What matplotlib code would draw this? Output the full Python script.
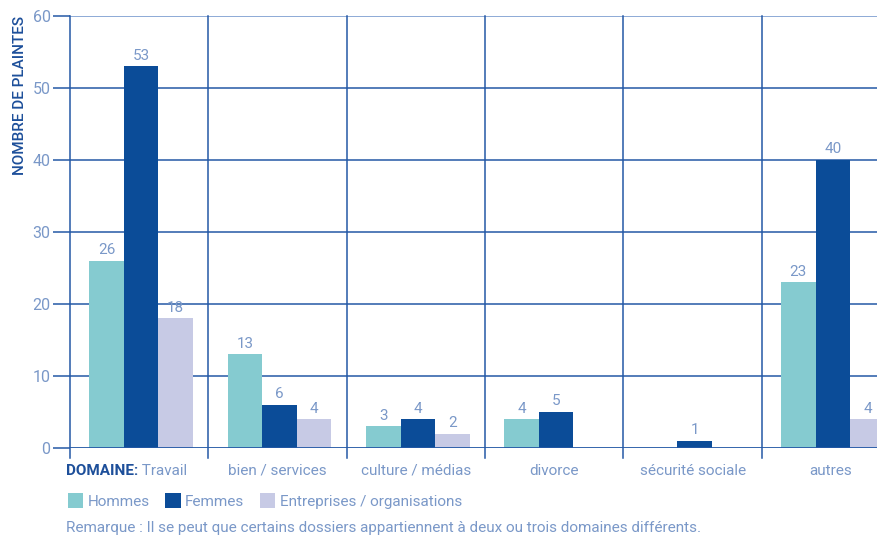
import numpy as np
import matplotlib.pyplot as plt
from matplotlib.patches import Patch

plt.rcParams['font.family'] = ['Roboto', 'DejaVu Sans']

# data
domaines = ["Travail", "bien / services", "culture / médias", "divorce",
            "sécurité sociale", "autres"]
hommes = [26, 13, 3, 4, 0, 23]
femmes = [53, 6, 4, 5, 1, 40]
entreprises = [18, 4, 2, 0, 0, 4]
series_names = ["Hommes", "Femmes", "Entreprises / organisations"]
colors = ["#85cbd0", "#0b4c98", "#c7cae5"]

grid_col = "#2459a6"
txt_col = "#7a98c8"
dark_col = "#1d4f9a"

fig = plt.figure(figsize=(8.78, 5.37), dpi=100)
ax = fig.add_axes([70/878, 1-448/537, 1-70/878, 432/537])

x = np.arange(len(domaines))
w = 0.25
all_series = [hommes, femmes, entreprises]
for k, vals in enumerate(all_series):
    pos = x + 0.264 + k * w
    for xi, v in zip(pos, vals):
        if v == 0:
            continue
        ax.bar(xi, v, width=w, color=colors[k], zorder=3)
        ax.text(xi, v + 0.5, str(v), ha='center', va='bottom',
                fontsize=11, color=txt_col, zorder=4)

ax.set_xlim(0, 5.84)
ax.set_ylim(0, 60)

# horizontal grid
for yv in range(10, 61, 10):
    ax.axhline(yv, color=grid_col if yv < 60 else "#6f93cc", lw=1.1, zorder=1)
ax.axhline(0, color=grid_col, lw=1.3, zorder=5)
# category separators
for xv in range(len(domaines)):
    ax.plot([xv, xv], [-1.4, 60], color=grid_col, lw=1.1, zorder=2, clip_on=False)

for s in ax.spines.values():
    s.set_visible(False)
ax.set_xticks([])
ax.set_yticks(range(0, 61, 10))
ax.tick_params(axis='y', length=12, width=1.1, color=grid_col,
               labelcolor=txt_col, labelsize=11.5, pad=2)

ax.set_ylabel("NOMBRE DE PLAINTES", color=dark_col, fontsize=11,
              fontweight='medium', labelpad=2)
ax.yaxis.set_label_coords(-0.053, 0.817)

# category labels
t1 = ax.text(-0.03, -2.2, "DOMAINE:", ha='left', va='top', fontsize=11,
             fontweight='bold', color=dark_col)
ax.annotate(" " + domaines[0], xy=(1, 0), xycoords=t1, va='bottom',
            fontsize=11, color=txt_col)
for i, name in enumerate(domaines[1:], start=1):
    ax.text(i + 0.5, -2.2, name, ha='center', va='top', fontsize=11, color=txt_col)

handles = [Patch(facecolor=c, edgecolor='none') for c in colors]
fig.legend(handles, series_names, loc='center left', ncol=3,
           bbox_to_anchor=(62/878, 1-501/537), frameon=False, fontsize=11,
           labelcolor=txt_col, handlelength=1.0, handleheight=1.1,
           handletextpad=0.3, columnspacing=1.0, borderaxespad=0)

fig.text(66/878, 1-528/537,
         "Remarque : Il se peut que certains dossiers appartiennent à deux ou trois domaines différents.",
         ha='left', va='center', fontsize=11, color=txt_col)

fig.savefig("out.png", dpi=100)
